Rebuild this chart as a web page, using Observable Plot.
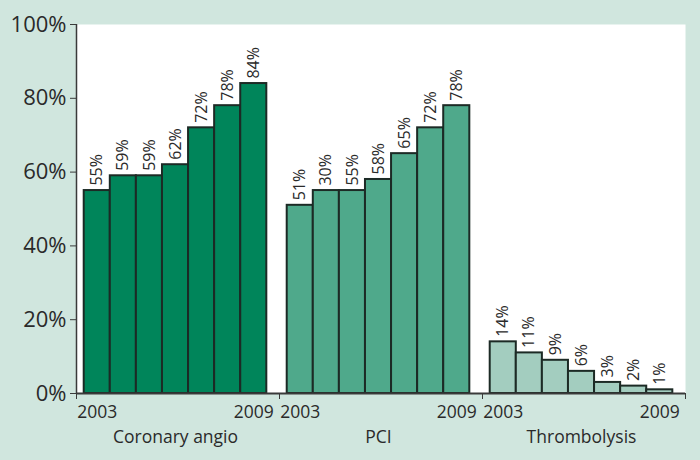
<!DOCTYPE html>
<html>
<head>
<meta charset="utf-8">
<script src="https://cdn.jsdelivr.net/npm/d3@7"></script>
<script src="https://cdn.jsdelivr.net/npm/@observablehq/plot@0.6"></script>
<style>
  html, body { margin: 0; padding: 0; background: #d0e6de; }
  #chart { width: 700px; height: 460px; }
</style>
</head>
<body>
<div id="chart"></div>
<script>
const groups = ["Coronary angio", "PCI", "Thrombolysis"];
const years = [2003, 2004, 2005, 2006, 2007, 2008, 2009];
const coronaryValues = [55, 59, 59, 62, 72, 78, 84];
const coronaryLabels = ["55%", "59%", "59%", "62%", "72%", "78%", "84%"];
const pciValues = [51, 55, 55, 58, 65, 72, 78];
const pciLabels = ["51%", "30%", "55%", "58%", "65%", "72%", "78%"];
const thrombolysisValues = [14, 11, 9, 6, 3, 2, 1];
const thrombolysisLabels = ["14%", "11%", "9%", "6%", "3%", "2%", "1%"];
const groupColors = ["#00855a", "#4fa98b", "#a3cdbf"];
const yTicks = [0, 20, 40, 60, 80, 100];
const yearTickLabels = ["2003", "2009"];

const seriesValues = [coronaryValues, pciValues, thrombolysisValues];
const seriesLabels = [coronaryLabels, pciLabels, thrombolysisLabels];

// layout within each group unit of the x scale
const groupOffset = 0.038;
const barWidth = 0.1285;

const data = [];
groups.forEach((g, gi) => {
  years.forEach((yr, k) => {
    data.push({
      group: g, gi, k, year: yr,
      value: seriesValues[gi][k],
      label: seriesLabels[gi][k],
      color: groupColors[gi]
    });
  });
});
data.forEach(d => {
  d.x1 = d.gi + groupOffset + d.k * barWidth;
  d.x2 = d.x1 + barWidth;
  d.xc = (d.x1 + d.x2) / 2;
});
const yearLabelData = data.filter(d => d.k === 0 || d.k === years.length - 1)
  .map(d => ({xc: d.xc, text: String(d.year)}))
  .filter(d => yearTickLabels.includes(d.text));
const groupLabelData = groups.map((g, gi) => ({
  name: g,
  xc: gi + groupOffset + barWidth * years.length / 2
}));

const font = "'Open Sans', 'Noto Sans', sans-serif";
const textColor = "#2a2a2a";
const axisColor = "#3a3a3a";

const chart = Plot.plot({
  width: 700,
  height: 460,
  marginLeft: 76,
  marginRight: 15,
  marginTop: 24,
  marginBottom: 67,
  style: { background: "transparent", fontFamily: font, color: textColor },
  x: { type: "linear", domain: [0, 3] },
  y: { domain: [0, 100] },
  marks: [
    Plot.frame({ fill: "white", stroke: "none" }),
    Plot.rectY(data, {
      x1: "x1", x2: "x2", y1: 0, y2: "value",
      fill: "color", stroke: "#1c2a25", strokeWidth: 2
    }),
    Plot.text(data, {
      x: "xc", y: "value", text: "label",
      rotate: -90, textAnchor: "start", dy: -5,
      fontSize: 16, fill: textColor
    }),
    Plot.ruleX([0], { stroke: axisColor, strokeWidth: 1.5 }),
    Plot.ruleY([0], { stroke: axisColor, strokeWidth: 2 }),
    Plot.axisY({
      ticks: yTicks, tickFormat: null, text: null, tickSize: 6,
      stroke: axisColor, label: null
    }),
    Plot.text(yTicks, {
      x: 0, y: d => d, text: d => d + "%", textAnchor: "end",
      dx: -10, fontSize: 22, fill: textColor
    }),
    Plot.axisX({
      ticks: [0, 1, 2, 3], tickFormat: () => "", tickSize: 6,
      stroke: axisColor, label: null
    }),
    Plot.text(yearLabelData, {
      x: "xc", y: 0, text: "text", dy: 19, fontSize: 17.5, fill: textColor
    }),
    Plot.text(groupLabelData, {
      x: "xc", y: 0, text: "name", dy: 44, fontSize: 17.5, fill: textColor
    })
  ]
});
document.getElementById("chart").appendChild(chart);
</script>
</body>
</html>
